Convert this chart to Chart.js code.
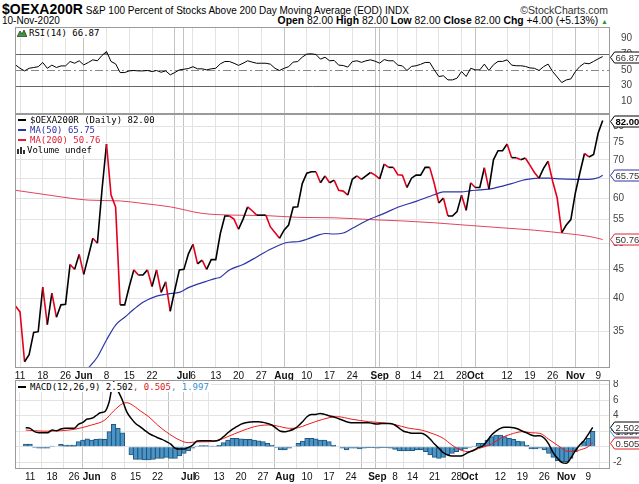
<!DOCTYPE html>
<html><head><meta charset="utf-8">
<script src="https://cdn.jsdelivr.net/npm/chart.js@4.4.1/dist/chart.umd.min.js"></script>
<style>
html,body{margin:0;padding:0;background:#fff}
#wrap{position:relative;width:639px;height:484px;overflow:hidden;font-family:"Liberation Sans",Arial,sans-serif;color:#000}
.t{position:absolute;white-space:nowrap}
canvas{position:absolute;left:0}
.lg{position:absolute;left:16px;font:9px "DejaVu Sans Mono",monospace;line-height:10px;white-space:nowrap}
.lg div{background:#fff;display:table;padding-right:2px}
.mk{display:inline-block;width:8px;height:2px;vertical-align:middle;margin:0 4px 1px 2px}
</style></head><body><div id="wrap">
<div class="t" style="left:2px;top:1px;font-size:10px;line-height:16px"><b style="font-size:14px">$OEXA200R</b> S&amp;P 100 Percent of Stocks Above 200 Day Moving Average (EOD) INDX</div>
<div class="t" style="right:31px;top:4px;font-size:10.5px;color:#333">©StockCharts.com</div>
<div class="t" style="left:2px;top:15px;font-size:10px">10-Nov-2020</div>
<div class="t" style="right:31px;top:15px;font-size:10.4px"><b>Open</b> 82.00 <b>High</b> 82.00 <b>Low</b> 82.00 <b>Close</b> 82.00 <b>Chg</b> +4.00 (+5.13%) <span style="color:#2a9a2a;font-size:7px">▲</span></div>
<canvas id="cRsi" width="639" height="87" style="top:27px;width:639px;height:87px"></canvas>
<canvas id="cMain" width="639" height="266" style="top:114px;width:639px;height:266px"></canvas>
<canvas id="cMacd" width="639" height="104" style="top:380px;width:639px;height:104px"></canvas>
<div class="lg" style="top:28px"><div><svg width="10" height="8" style="vertical-align:middle;margin:0 2px 1px 1px"><polygon points="0,8 3,2 5,5 7,1 10,8" fill="#3a9a3a" stroke="#333" stroke-width="0.8"/></svg>RSI(14) 66.87</div></div>
<div class="lg" style="top:115px">
<div><span class="mk" style="background:#000"></span>$OEXA200R (Daily) 82.00</div>
<div style="color:#2b35a8"><span class="mk" style="background:#2b35a8"></span>MA(50) 65.75</div>
<div style="color:#e0203a"><span class="mk" style="background:#e0203a"></span>MA(200) 50.76</div>
<div><svg width="10" height="8" style="vertical-align:middle;margin:0 0 1px 1px"><rect x="0" y="3" width="2" height="5" fill="#333"/><rect x="3" y="1" width="2" height="7" fill="#333"/><rect x="6" y="4" width="2" height="4" fill="#333"/></svg>Volume undef</div>
</div>
<div class="lg" style="top:382px"><div><span class="mk" style="background:#000"></span>MACD(12,26,9) 2.502<span style="color:#e02020">, 0.505</span><span style="color:#3a8fcf">, 1.997</span></div></div>
</div>
<script>
// ---------- DATA ----------
const dates = ['05-08','05-11','05-12','05-13','05-14','05-15','05-18','05-19','05-20','05-21','05-22','05-26','05-27','05-28','05-29',
'06-01','06-02','06-03','06-04','06-05','06-08','06-09','06-10','06-11','06-12','06-15','06-16','06-17','06-18','06-19','06-22','06-23','06-24','06-25','06-26','06-29','06-30',
'07-01','07-02','07-06','07-07','07-08','07-09','07-10','07-13','07-14','07-15','07-16','07-17','07-20','07-21','07-22','07-23','07-24','07-27','07-28','07-29','07-30','07-31',
'08-03','08-04','08-05','08-06','08-07','08-10','08-11','08-12','08-13','08-14','08-17','08-18','08-19','08-20','08-21','08-24','08-25','08-26','08-27','08-28','08-31',
'09-01','09-02','09-03','09-04','09-08','09-09','09-10','09-11','09-14','09-15','09-16','09-17','09-18','09-21','09-22','09-23','09-24','09-25','09-28','09-29','09-30',
'10-01','10-02','10-05','10-06','10-07','10-08','10-09','10-12','10-13','10-14','10-15','10-16','10-19','10-20','10-21','10-22','10-23','10-26','10-27','10-28','10-29','10-30',
'11-02','11-03','11-04','11-05','11-06','11-09','11-10'];

const tickDates  = ['05-11','05-18','05-26','06-01','06-08','06-15','06-22','06-29','07-01','07-06','07-13','07-20','07-27','08-03','08-10','08-17','08-24','08-31','09-01','09-08','09-14','09-21','09-28','10-01','10-12','10-19','10-26','11-02','11-09'];
const tickLabels = ['11','18','26','Jun','8','15','22','','Jul','6','13','20','27','Aug','10','17','24','','Sep','8','14','21','28','Oct','12','19','26','Nov','9'];

const price = [38.8,37.9,31.0,31.9,34.9,35.0,41.9,36.0,40.9,37.1,39.0,39.1,45.9,45.0,47.8,
44.1,47.4,51.0,50.0,61.9,74.6,60.7,57.9,39.0,39.0,42.0,44.9,44.0,44.0,44.9,42.0,44.9,41.0,42.8,38.0,41.4,44.9,
45.0,47.9,49.8,46.0,46.7,45.0,46.8,46.8,52.0,55.8,55.8,55.1,52.9,55.1,57.9,57.0,56.0,56.0,56.0,53.4,52.2,51.0,
52.7,53.8,57.8,57.9,63.6,66.3,66.7,66.7,63.8,65.6,63.8,64.5,61.9,61.7,60.7,64.7,65.6,64.7,65.6,66.5,65.8,
64.8,68.8,67.9,67.9,65.9,65.8,62.6,65.0,65.8,65.8,67.9,67.9,63.6,58.8,60.0,55.8,55.8,56.8,60.7,57.1,63.8,
62.6,62.6,67.8,62.2,70.0,72.6,72.6,74.6,70.6,70.6,70.0,70.5,68.5,66.5,65.0,67.6,69.6,64.2,60.0,52.2,53.8,55.0,
61.3,66.5,71.8,70.8,71.5,78.0,82.0];

const ma50Days = ['06-02','06-04','06-08','06-10','06-12','06-16','06-18','06-23','06-25','06-29','06-30','07-02','07-07','07-09','07-13','07-14','07-16','07-21','07-24','07-29','08-04','08-06','08-10','08-12','08-14','08-18','08-20','08-24','08-27','09-02','09-08','09-14','09-18','09-22','09-24','09-28','09-30','10-02','10-07','10-13','10-16','10-21','10-23','10-28','11-02','11-05','11-09','11-10'];
const ma50Vals = [30.2,31.6,33.85,35.95,37.1,38.3,39.4,40.4,40.7,40.9,41.0,41.8,42.4,42.9,43.4,43.6,44.9,45.9,47.3,48.8,50.2,50.3,50.8,51.5,52.0,51.9,52.1,53.1,54.7,56.4,57.8,59.2,60.8,61.5,61.5,61.5,61.8,62.0,62.4,63.6,64.6,65.0,65.0,64.8,64.7,64.7,65.1,65.75];

const ma200Days = ['05-08','05-20','06-02','06-11','06-18','06-26','07-08','07-17','07-28','08-06','08-18','08-28','09-09','09-18','09-30','10-09','10-20','10-29','11-05','11-10'];
const ma200Vals = [61.9,60.6,59.5,59.3,58.7,57.9,56.4,56.0,55.9,55.5,55.4,55.0,54.7,54.3,53.7,53.2,52.7,52.0,51.4,50.76];

const rsi = [56.3,52,48.7,52,53,54,59.3,52,56,53,55,55,60.6,58.4,61.5,
56.3,59.3,62.7,61.5,68.2,73.3,60.6,57.6,46.6,46.6,48.7,49.2,48.7,48.7,49.2,47.9,49.2,47.0,48.7,43.7,46.6,50,
50.8,51.7,54,51.3,51.3,50,51.3,52,57.6,60.6,60.6,58.4,55.7,58.4,61.5,59.8,58.4,58.4,58.4,57.2,52,49.2,
52,54,59.8,60.6,66.1,70,70.3,69.5,63.6,66,61.5,62,56,55.5,53.5,60.5,61.5,59.5,61.5,62.7,61,
58.5,63,61.5,61.5,56,55,49.2,54.4,55.2,57,59.4,59.4,50,41.6,42.5,37.3,37.3,39.5,47.9,41.6,52,
50,50,57.3,49.2,56.5,60.7,60.7,62.7,56,55.2,55.2,54.4,52.5,52,49.2,54,57.3,47.9,41,33.9,37.3,38.5,
47.9,54.4,58.5,57.7,60.7,64,66.87];

const macd = [2.45,2.37,1.94,1.8,1.8,1.8,2.15,2.06,2.28,2.37,2.37,2.37,2.88,3.14,3.57,
3.66,4.0,4.39,4.52,5.8,8.4,7.2,6.0,4.5,3.66,3.0,2.58,2.15,1.72,1.42,1.16,0.95,0.65,0.34,-0.2,-0.3,-0.3,
-0.09,0.2,0.73,0.77,0.77,0.77,0.73,0.86,1.29,1.8,2.24,2.58,2.92,3.1,3.18,3.23,3.23,3.14,3.0,2.8,2.37,2.0,
1.94,2.06,2.28,2.67,3.23,3.87,4.17,4.17,4.3,4.17,4.0,3.87,3.66,3.44,3.23,3.1,3.1,3.1,3.1,3.1,3.0,
2.92,3.0,3.0,3.0,2.8,2.37,2.0,1.85,1.72,1.72,1.72,1.5,1.0,0.34,-0.2,-0.77,-1.07,-1.2,-1.2,-1.2,-0.95,
-0.65,-0.43,-0.09,0.09,0.77,1.5,2.0,2.37,2.5,2.5,2.45,2.28,2.0,1.8,1.5,1.38,1.42,1.08,0.34,-0.77,-1.5,-2.06,
-2.15,-1.5,-0.56,0.2,0.77,1.6,2.502];

const signalDays = ['05-08','05-14','05-20','05-26','06-01','06-04','06-08','06-10','06-11','06-15','06-16','06-18','06-22','06-24','06-29','07-01','07-06','07-09','07-13','07-15','07-20','07-23','07-28','07-30','08-04','08-06','08-10','08-12','08-17','08-19','08-24','08-28','09-02','09-08','09-11','09-16','09-18','09-23','09-25','09-29','10-01','10-05','10-08','10-12','10-15','10-19','10-21','10-23','10-27','10-30','11-02','11-04','11-05','11-09','11-10'];
const signalVals = [2.15,2.0,2.06,2.24,2.8,3.44,4.6,5.55,5.68,5.1,4.65,3.87,2.8,1.9,0.86,0.52,0.62,0.65,0.86,1.3,2.0,2.58,2.8,2.7,2.37,2.45,2.85,3.25,3.74,3.87,3.57,3.23,3.1,2.85,2.4,2.15,1.8,1.08,0.2,-0.43,-0.65,-0.25,0.34,1.08,1.72,1.94,1.8,1.72,0.95,-0.2,-0.6,-0.58,-0.43,0.0,0.505];

const hist = [0.34,0.34,-0.09,-0.2,-0.2,-0.2,0.09,0,0.3,0.2,0.2,0.2,0.65,0.86,1.0,
0.86,0.95,1.0,0.95,1.94,2.88,2.37,1.8,0,-1.07,-1.63,-1.63,-1.72,-1.72,-1.63,-1.5,-1.5,-1.38,-1.5,-1.5,-1.2,-0.86,
-0.56,-0.2,0.09,0.13,0.13,0.09,0.09,0.2,0.52,0.86,1.08,1.08,1.0,0.95,0.95,0.86,0.77,0.65,0.43,0.2,-0.09,-0.43,
-0.43,-0.2,0,0.43,0.73,1.08,1.08,1.0,0.86,0.86,0.65,0.2,0,-0.2,-0.43,-0.2,-0.2,-0.3,-0.2,-0.13,-0.13,
-0.2,-0.13,-0.13,-0.2,-0.34,-0.56,-0.56,-0.56,-0.52,-0.43,-0.43,-0.65,-1.07,-1.38,-1.5,-1.38,-1.07,-0.86,-0.65,-0.43,-0.3,
-0.09,0.09,0.43,0.43,0.86,1.29,1.5,1.5,1.29,1.08,0.95,0.73,0.65,0.2,-0.3,-0.3,-0.2,-0.43,-0.86,-1.38,-1.8,-1.94,
-1.94,-1.5,-0.65,0.09,0.65,1.08,1.997];

const mainTicks = [35,40,45,50,55,60,65,70,75,80];
const rsiTicks = [10,30,50,70,90];
const macdTicks = [-2,0,2,4,6,8];

// ---------- RENDER ----------
const FONT = '"Liberation Sans", Arial, sans-serif';
Chart.defaults.font.family = FONT;
Chart.defaults.font.size = 10;
Chart.defaults.animation = false;
const RED = '#e4001c';
const tickPos = tickDates.map(d => dates.indexOf(d));
const isMonth = i => /^[A-Za-z]/.test(tickLabels[i] || '') || tickLabels[i] === '';
const pts = (days, vals) => days.map((d, k) => ({x: dates.indexOf(d), y: vals[k]}));
const ser = vals => vals.map((v, i) => ({x: i, y: v}));

function xScale(h, show) {
  return {
    type: 'linear', min: -0.1, max: 130.6,
    afterBuildTicks: s => { s.ticks = tickPos.map(v => ({value: v})); },
    afterFit: s => { s.height = h; s.paddingLeft = 0; s.paddingRight = 0; },
    ticks: {display: show, autoSkip: false, maxRotation: 0, minRotation: 0, padding: 2, color: '#111',
      callback: (v, i) => tickLabels[i],
      font: c => ({family: FONT, size: 10, weight: /^[A-Za-z]/.test(tickLabels[c.index] || '') ? 'bold' : 'normal'})},
    grid: {drawTicks: false, color: c => isMonth(c.index) ? '#c4c4c4' : '#e3e3e3'},
    border: {display: false}
  };
}
function yScale(opts, ticks, fmt) {
  return Object.assign({
    position: 'right',
    afterBuildTicks: s => { s.ticks = ticks.map(v => ({value: v})); },
    afterFit: s => { s.width = 29; s.paddingTop = 0; s.paddingBottom = 0; },
    ticks: {padding: 3, color: '#444', font: {family: FONT, size: 10}, callback: fmt || (v => String(v))},
    grid: {drawTicks: false, color: '#e3e3e3'},
    border: {display: false}
  }, opts);
}
const frame = {id: 'frame', afterDraw(ch) {
  const a = ch.chartArea, c = ch.ctx;
  c.save(); c.strokeStyle = '#9a9a9a'; c.lineWidth = 1;
  c.strokeRect(Math.round(a.left) + 0.5, Math.round(a.top) + 0.5, Math.round(a.right - a.left) - 1, Math.round(a.bottom - a.top) - 1);
  c.restore();
}};
function tagPlugin(tags) {
  return {id: 'tags', afterDraw(ch) {
    const c = ch.ctx, ys = ch.scales.y, x = ch.chartArea.right + 0.5;
    tags.forEach(t => {
      const y = Math.round(ys.getPixelForValue(t.v)) + 0.5;
      c.save();
      c.font = (t.b ? 'bold ' : '') + '9.5px ' + FONT;
      const w = c.measureText(t.t).width + 3, h = 11;
      c.beginPath(); c.moveTo(x, y); c.lineTo(x + 4, y - h / 2); c.lineTo(x + 4 + w, y - h / 2);
      c.lineTo(x + 4 + w, y + h / 2); c.lineTo(x + 4, y + h / 2); c.closePath();
      c.fillStyle = '#fff'; c.fill(); c.strokeStyle = t.c; c.lineWidth = 1; c.stroke();
      c.fillStyle = t.b ? '#000' : '#333'; c.textBaseline = 'middle'; c.fillText(t.t, x + 5, y + 0.5);
      c.restore();
    });
  }};
}
const rsiLines = {id: 'rsiLines', beforeDatasetsDraw(ch) {
  const c = ch.ctx, a = ch.chartArea, ys = ch.scales.y;
  c.save(); c.lineWidth = 1;
  [70, 30].forEach(v => { const y = Math.round(ys.getPixelForValue(v)) + 0.5;
    c.strokeStyle = '#666'; c.beginPath(); c.moveTo(a.left, y); c.lineTo(a.right, y); c.stroke(); });
  const y5 = Math.round(ys.getPixelForValue(50)) + 0.5;
  c.strokeStyle = '#888'; c.setLineDash([8, 3, 2, 3]); c.beginPath(); c.moveTo(a.left, y5); c.lineTo(a.right, y5); c.stroke();
  c.restore();
}};
const layout = {padding: {left: 15, right: 0, top: 0, bottom: 0}};
const noPlug = {legend: {display: false}, tooltip: {enabled: false}};

new Chart(document.getElementById('cRsi'), {
  type: 'line',
  data: {datasets: [{data: ser(rsi), borderColor: '#000', borderWidth: 1, pointRadius: 0,
    fill: {target: {value: 70}, above: 'rgba(60,150,60,0.85)', below: 'rgba(0,0,0,0)'}}]},
  options: {responsive: false, layout, plugins: noPlug,
    scales: {x: xScale(0, false), y: yScale({min: -5.9, max: 104.3, grid: {display: false}}, rsiTicks)}},
  plugins: [rsiLines, frame, tagPlugin([{v: 66.87, t: '66.87', c: '#000'}])]
});

new Chart(document.getElementById('cMain'), {
  type: 'line',
  data: {datasets: [
    {data: pts(ma200Days, ma200Vals), borderColor: '#e2455a', borderWidth: 1, pointRadius: 0, cubicInterpolationMode: 'monotone', order: 3},
    {data: pts(ma50Days, ma50Vals), borderColor: '#2b35a8', borderWidth: 1.2, pointRadius: 0, cubicInterpolationMode: 'monotone', order: 2},
    {data: ser(price), borderColor: '#000', borderWidth: 1.6, pointRadius: 0, order: 1,
      segment: {borderColor: c => c.p1.parsed.y < c.p0.parsed.y ? RED : '#000'}}
  ]},
  options: {responsive: false, layout, plugins: noPlug,
    scales: {x: xScale(12, true), y: yScale({type: 'logarithmic', min: 30.23, max: 84.2}, mainTicks)}},
  plugins: [frame, tagPlugin([{v: 50.76, t: '50.76', c: '#e0203a'}, {v: 65.75, t: '65.75', c: '#2b35a8'}, {v: 82.0, t: '82.00', c: '#000', b: true}])]
});

new Chart(document.getElementById('cMacd'), {
  type: 'bar',
  data: {datasets: [
    {type: 'bar', data: ser(hist), backgroundColor: '#4a94c6', borderColor: '#24577f', borderWidth: 1, barThickness: 4.6, order: 3},
    {type: 'line', data: pts(signalDays, signalVals), borderColor: '#f01818', borderWidth: 1, pointRadius: 0, cubicInterpolationMode: 'monotone', order: 2},
    {type: 'line', data: ser(macd), borderColor: '#000', borderWidth: 1.5, pointRadius: 0, cubicInterpolationMode: 'monotone', order: 1}
  ]},
  options: {responsive: false, layout, plugins: noPlug,
    scales: {x: xScale(15, true), y: yScale({min: -2.88, max: 8.61}, macdTicks)}},
  plugins: [frame, tagPlugin([{v: 1.997, t: '1.997', c: '#3a8fcf'}, {v: 2.502, t: '2.502', c: '#000'}, {v: 0.505, t: '0.505', c: '#e02020'}])]
});
</script>
</body></html>
